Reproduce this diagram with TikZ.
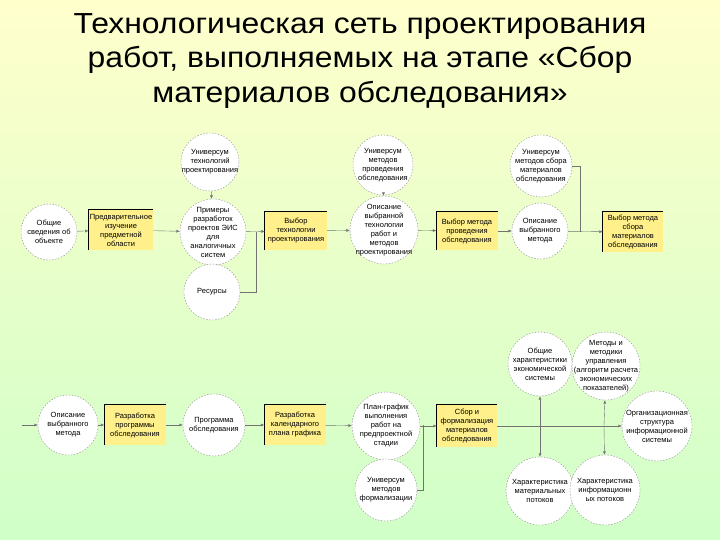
\documentclass[tikz,border=0pt]{standalone}
\usepackage{fontspec}
\setmainfont{Liberation Sans}
\newfontfamily\titlefont[FakeStretch=1.1]{Liberation Sans}
\usetikzlibrary{arrows.meta}
\definecolor{bgtop}{RGB}{255,255,204}
\definecolor{bgmid}{RGB}{236,255,202}
\definecolor{bgbot}{RGB}{208,255,200}
\definecolor{boxfill}{RGB}{255,240,140}
\definecolor{rimgray}{RGB}{140,140,140}

\begin{document}
\begin{tikzpicture}[x=1pt,y=-1pt,
  every node/.style={font=\fontsize{7.5}{9}\selectfont, align=center},
  circ/.style={circle, draw=rimgray, dash pattern=on 1.5pt off 1.5pt, fill=white, minimum size=#1, inner sep=0pt},
  work/.style={rectangle, fill=boxfill, minimum width=62pt, minimum height=40pt, inner sep=1pt},
  rim/.style={black, line width=0.9pt},
  wire/.style={draw=black!55, line width=0.4pt},
  link/.style={wire, -{Latex[length=3.5pt,width=3pt]}}]
  \shade[top color=bgtop, middle color=bgmid, bottom color=bgbot] (0,0) rectangle (720,540);
  \useasboundingbox (0,0) rectangle (720,540);

  \node[font=\titlefont\fontsize{29}{34.5}\selectfont] (title) at (360,61)
    {Технологическая сеть проектирования\\работ, выполняемых на этапе «Сбор\\материалов обследования»};

  % upper chain
  \node[circ=58, label=center:{Универсум\\технологий\\проектирования}] (u1) at (210,162) {};
  \node[circ=56, label=center:{Общие\\сведения об\\объекте}] (ob) at (49,232) {};
  \node[work] (pr) at (121,230) {Предварительное\\изучение\\предметной\\области};
  \node[circ=66, label=center:{Примеры\\разработок\\проектов ЭИС\\для\\аналогичных\\систем}] (ex) at (213,232) {};
  \node[circ=56, label=center:{Ресурсы}] (res) at (212,292) {};
  \node[work, minimum height=38pt] (vt) at (296,231) {Выбор\\технологии\\проектирования};
  \node[circ=60, label=center:{Универсум\\методов\\проведения\\обследования}] (u2) at (383,165) {};
  \node[circ=68, label=center:{Описание\\выбранной\\технологии\\работ и\\методов\\проектирования}] (ot) at (384,230) {};
  \node[work, minimum width=61pt, minimum height=38pt] (vm) at (467,231) {Выбор метода\\проведения\\обследования};
  \node[circ=62, label=center:{Универсум\\методов сбора\\материалов\\обследования}] (u3) at (541,166) {};
  \node[circ=56, label=center:{Описание\\выбранного\\метода}] (om) at (540,231) {};
  \node[work, minimum width=60pt] (vs) at (633,232) {Выбор метода\\сбора\\материалов\\обследования};

  % lower chain
  \node[circ=60, label=center:{Описание\\выбранного\\метода}] (om2) at (68,425) {};
  \node[work, minimum width=61pt] (rp) at (135,425) {Разработка\\программы\\обследования};
  \node[circ=62, label=center:{Программа\\обследования}] (po) at (214,425) {};
  \node[work, minimum width=61pt] (rk) at (295,425) {Разработка\\календарного\\плана графика};
  \node[circ=68, label=center:{План-график\\выполнения\\работ на\\предпроектной\\стадии}] (pg) at (386,426) {};
  \node[circ=62, label=center:{Универсум\\методов\\формализации}] (u4) at (386,490) {};
  \node[work, minimum width=60pt, minimum height=42pt] (sf) at (467,426) {Сбор и\\формализация\\материалов\\обследования};
  \node[circ=64, label=center:{Общие\\характеристики\\экономической\\системы}] (oh) at (540,364) {};
  \node[circ=68, label=center:{Методы и\\методики\\управления\\(алгоритм расчета\\экономических\\показателей)}] (mm) at (606,366) {};
  \node[circ=70, label=center:{Организационная\\структура\\информационной\\системы}] (os) at (657,426) {};
  \node[circ=68, label=center:{Характеристика\\материальных\\потоков}] (hm) at (540,491) {};
  \node[circ=70, label=center:{Характеристика\\информационн\\ых потоков}] (hi) at (605,490) {};

  \foreach \b in {pr,vt,vm,vs,rp,rk,sf}
    \draw[rim] (\b.south west) |- (\b.north east);

  \coordinate (j1) at (256,232);
  \coordinate (j3) at (580,232);
  \coordinate (s1) at (22,425);
  \coordinate (j4) at (423,425);
  \coordinate (ja) at (540,426);
  \coordinate (jb) at (604,426);

  \draw[link] (ob) -- (pr);
  \draw[link] (pr) -- (ex);
  \draw[link] (u1) -- (ex);
  \draw[link] (ex) -- (vt);
  \draw[wire] (res) -- (res -| j1) -- (j1);
  \draw[link] (vt) -- (ot);
  \draw[link] (u2) -- (ot);
  \draw[link] (ot) -- (vm);
  \draw[link] (vm) -- (om);
  \draw[wire] (u3.east) -| (j3);
  \draw[link] (om) -- (vs);

  \draw[link] (s1) -- (om2);
  \draw[link] (om2) -- (rp);
  \draw[link] (rp) -- (po);
  \draw[link] (po) -- (rk);
  \draw[link] (rk) -- (pg);
  \draw[link] (pg) -- (sf);
  \draw[wire] (u4) -- (u4 -| j4) -- (j4);
  \draw[wire] (sf) -- (jb);
  \draw[link] (ja) -- (oh);
  \draw[link] (ja) -- (hm);
  \draw[link] (jb) -- (mm);
  \draw[link] (jb) -- (hi);
  \draw[link] (jb) -- (os);
\end{tikzpicture}
\end{document}
